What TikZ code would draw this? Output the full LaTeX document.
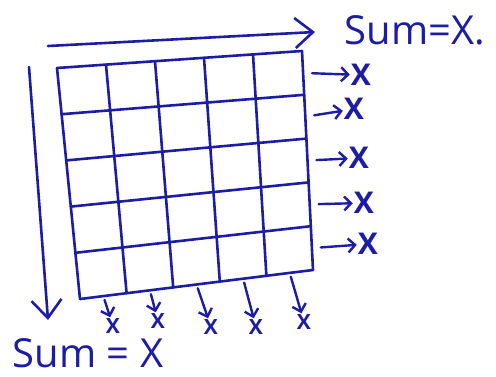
\documentclass[tikz,border=0pt]{standalone}
\usepackage{fontspec}
\setmainfont{Open Sans}
\usetikzlibrary{calc, arrows.meta}
\definecolor{ink}{RGB}{28,28,165}

\begin{document}
\begin{tikzpicture}[x=1pt, y=-1pt,
  gridline/.style={draw=ink, line width=2.6pt, line cap=round},
  arr/.style={-{Straight Barb[length=7pt, width=14pt]}, draw=ink,
              line width=2.4pt, line cap=round, line join=round},
  bigarr/.style={-{Straight Barb[length=18pt, width=30pt]}, draw=ink,
              line width=2.6pt, line cap=round, line join=round},
  xlab/.style={text=ink, font=\fontsize{30}{30}\selectfont\bfseries, inner sep=1pt},
  smallx/.style={text=ink, font=\fontsize{21}{21}\selectfont\bfseries, inner sep=1pt},
  sumlab/.style={text=ink, inner sep=0pt},
]
\useasboundingbox (0,0) rectangle (496,376);

% corners of the 5x5 grid
\coordinate (tl) at (57,68);
\coordinate (tr) at (302,51);
\coordinate (bl) at (80,299);
\coordinate (br) at (313,270);

\foreach \i in {0,...,5} {
  \draw[gridline] ($(tl)!\i/5!(bl)$) -- ($(tr)!\i/5!(br)$);
  \draw[gridline] ($(tl)!\i/5!(tr)$) -- ($(bl)!\i/5!(br)$);
}

% row sums
\node[xlab] (rx1) at (361,75) {X};
\node[xlab] (rx2) at (354,109) {X};
\node[xlab] (rx3) at (359,158) {X};
\node[xlab] (rx4) at (364,203) {X};
\node[xlab] (rx5) at (368,244) {X};
\foreach \f/\n in {0.1/1, 0.3/2, 0.5/3, 0.7/4, 0.9/5}
  \draw[arr, shorten <=9pt] ($(tr)!\f!(br)$) -- (rx\n);

% column sums
\node[smallx] (bx1) at (113,326) {X};
\node[smallx] (bx2) at (158,321) {X};
\node[smallx] (bx3) at (211,327) {X};
\node[smallx] (bx4) at (256,327) {X};
\node[smallx] (bx5) at (304,322) {X};
\foreach \f/\n in {0.1/1, 0.3/2, 0.5/3, 0.7/4, 0.9/5}
  \draw[arr, shorten <=4pt] ($(bl)!\f!(br)$) -- (bx\n);

% total arrows
\coordinate (topstart) at (48,46);
\coordinate (topend) at (315,32);
\draw[bigarr] (topstart) -- (topend);
\node[sumlab, font=\fontsize{40}{40}\selectfont] (sumtop) at (415,30) {Sum=X.};

\coordinate (leftstart) at (29,67);
\coordinate (leftend) at (48,320);
\draw[bigarr] (leftstart) -- (leftend);
\node[sumlab, font=\fontsize{40}{40}\selectfont] (sumleft) at (88,353) {Sum = X};
\end{tikzpicture}
\end{document}
